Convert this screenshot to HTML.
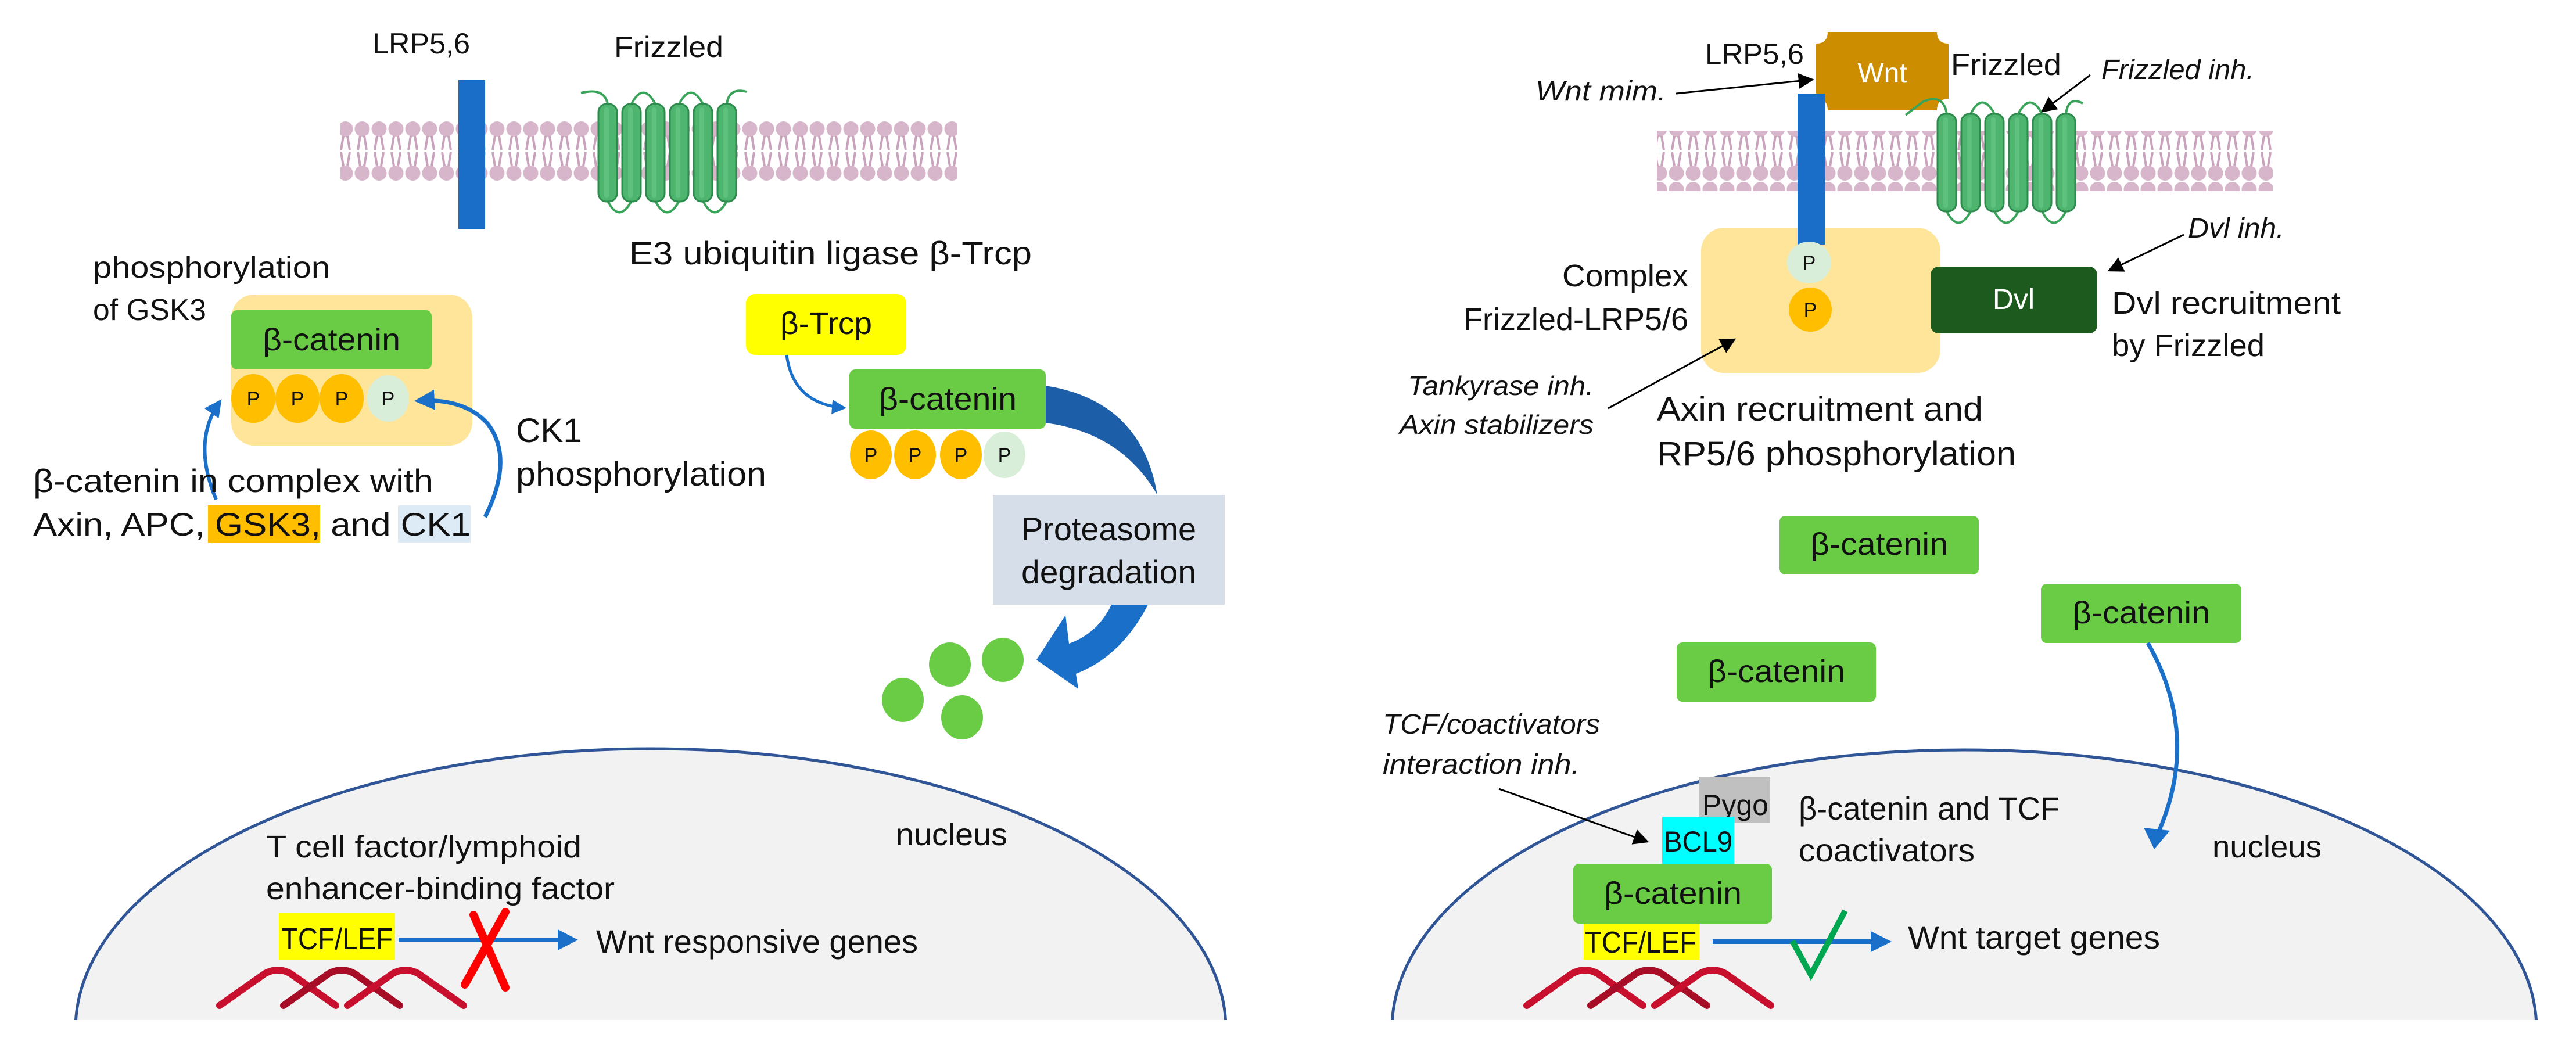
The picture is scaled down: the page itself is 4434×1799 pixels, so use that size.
<!DOCTYPE html>
<html><head><meta charset="utf-8"><style>
html,body{margin:0;padding:0;background:#fff;width:4434px;height:1799px;overflow:hidden}
svg{display:block}
text{font-family:"Liberation Sans",sans-serif;fill:#111}
.it{font-style:italic}
</style></head><body>
<svg width="4434" height="1799" viewBox="0 0 4434 1799" xmlns="http://www.w3.org/2000/svg">
<defs>
<pattern id="lip" x="0" y="0" width="29" height="104" patternUnits="userSpaceOnUse">
 <circle cx="14.5" cy="14" r="13" fill="#d7b5cb"/>
 <circle cx="14.5" cy="90" r="13" fill="#d7b5cb"/>
 <path d="M11 26 L7 50 M18 26 L22 50 M11 78 L7 54 M18 78 L22 54" stroke="#c9a3bb" stroke-width="4" fill="none"/>
</pattern>
<marker id="ab" viewBox="0 0 10 10" refX="8" refY="5" markerWidth="5" markerHeight="5" orient="auto"><path d="M0 0 L10 5 L0 10 Z" fill="#1a6fc9"/></marker>
<marker id="ak" viewBox="0 0 10 10" refX="9" refY="5" markerWidth="9" markerHeight="9" orient="auto"><path d="M0 0 L10 5 L0 10 Z" fill="#000"/></marker>
<g id="helix">
 <rect x="0" y="0" width="32" height="168" rx="14" fill="#4db56d" stroke="#2e8b4e" stroke-width="3"/>
 <rect x="10" y="6" width="8" height="156" rx="4" fill="#6cc98a" opacity="0.6"/>
</g>
<g id="dna" fill="none" stroke-width="12" stroke-linecap="round" stroke-linejoin="round">
 <path d="M0 61 L78 6 Q100 -6 122 6 L200 61" stroke="#c8102e"/>
 <path d="M110 61 L188 6 Q210 -6 232 6 L310 61" stroke="#a80d27"/>
 <path d="M220 61 L298 6 Q320 -6 342 6 L420 61" stroke="#c8102e"/>
</g>
</defs>

<!-- ================= LEFT PANEL ================= -->
<rect x="585" y="208" width="1063" height="104" fill="url(#lip)"/>
<rect x="789" y="138" width="46" height="256" fill="#1a6ec8"/>
<g fill="none" stroke="#3aa35a" stroke-width="4">
 <path d="M1046 179 Q1040 150 1000 160"/>
 <path d="M1087 179 Q1107 140 1128 179"/>
 <path d="M1169 179 Q1189 140 1210 179"/>
 <path d="M1251 179 Q1255 150 1285 158"/>
 <path d="M1046 346 Q1066 385 1087 346"/>
 <path d="M1128 346 Q1148 385 1169 346"/>
 <path d="M1210 346 Q1230 385 1251 346"/>
</g>
<use href="#helix" x="1030" y="179"/><use href="#helix" x="1071" y="179"/><use href="#helix" x="1112" y="179"/>
<use href="#helix" x="1153" y="179"/><use href="#helix" x="1194" y="179"/><use href="#helix" x="1235" y="179"/>
<text x="641" y="92" font-size="50" textLength="168" lengthAdjust="spacingAndGlyphs">LRP5,6</text>
<text x="1057" y="98" font-size="50" textLength="188" lengthAdjust="spacingAndGlyphs">Frizzled</text>
<text x="1083" y="455" font-size="56" textLength="693" lengthAdjust="spacingAndGlyphs">E3 ubiquitin ligase β-Trcp</text>
<text x="160" y="478" font-size="52" textLength="408" lengthAdjust="spacingAndGlyphs">phosphorylation</text>
<text x="160" y="551" font-size="52" textLength="195" lengthAdjust="spacingAndGlyphs">of GSK3</text>

<rect x="398" y="507" width="415" height="260" rx="40" fill="#fee59a"/>
<rect x="398" y="534" width="345" height="102" rx="10" fill="#6acc45"/>
<text x="452" y="603" font-size="54" textLength="237" lengthAdjust="spacingAndGlyphs">β-catenin</text>
<g font-size="34" text-anchor="middle">
<ellipse cx="436" cy="686" rx="38" ry="42" fill="#ffbf00"/><text x="436" y="698">P</text>
<ellipse cx="512" cy="686" rx="38" ry="42" fill="#ffbf00"/><text x="512" y="698">P</text>
<ellipse cx="588" cy="686" rx="38" ry="42" fill="#ffbf00"/><text x="588" y="698">P</text>
<ellipse cx="668" cy="686" rx="36" ry="40" fill="#d8eed9"/><text x="668" y="698">P</text>
</g>
<path d="M372 860 Q330 760 378 692" fill="none" stroke="#1a6fc9" stroke-width="6" marker-end="url(#ab)"/>
<path d="M835 890 Q885 790 840 730 Q800 685 720 690" fill="none" stroke="#1a6fc9" stroke-width="7" marker-end="url(#ab)"/>

<rect x="358" y="870" width="193" height="64" fill="#ffbf00"/>
<rect x="685" y="870" width="125" height="64" fill="#ddebf7"/>
<text x="57" y="847" font-size="56" textLength="689" lengthAdjust="spacingAndGlyphs">β-catenin in complex with</text>
<text x="57" y="922" font-size="56" textLength="753" lengthAdjust="spacingAndGlyphs">Axin, APC, GSK3, and CK1</text>
<text x="888" y="761" font-size="58" textLength="114" lengthAdjust="spacingAndGlyphs">CK1</text>
<text x="888" y="836" font-size="58" textLength="431" lengthAdjust="spacingAndGlyphs">phosphorylation</text>

<rect x="1284" y="506" width="276" height="105" rx="16" fill="#ffff00"/>
<text x="1343" y="575" font-size="54" textLength="158" lengthAdjust="spacingAndGlyphs">β-Trcp</text>
<path d="M1354 611 Q1365 695 1452 702" fill="none" stroke="#1a6fc9" stroke-width="5" marker-end="url(#ab)"/>
<rect x="1462" y="636" width="338" height="102" rx="10" fill="#6acc45"/>
<text x="1513" y="705" font-size="54" textLength="237" lengthAdjust="spacingAndGlyphs">β-catenin</text>
<g font-size="34" text-anchor="middle">
<ellipse cx="1499" cy="783" rx="36" ry="42" fill="#ffbf00"/><text x="1499" y="795">P</text>
<ellipse cx="1575" cy="783" rx="36" ry="42" fill="#ffbf00"/><text x="1575" y="795">P</text>
<ellipse cx="1654" cy="783" rx="36" ry="42" fill="#ffbf00"/><text x="1654" y="795">P</text>
<ellipse cx="1729" cy="783" rx="36" ry="40" fill="#d8eed9"/><text x="1729" y="795">P</text>
</g>
<path d="M1800 664 Q1965 690 1992 852 Q1930 745 1800 728 Z" fill="#1d5ea8"/>
<rect x="1709" y="852" width="399" height="189" fill="#d5dee9"/>
<text x="1758" y="930" font-size="56" textLength="301" lengthAdjust="spacingAndGlyphs">Proteasome</text>
<text x="1758" y="1004" font-size="56" textLength="301" lengthAdjust="spacingAndGlyphs">degradation</text>
<path d="M1976 1041 Q1930 1130 1852 1160 L1856 1186 L1784 1136 L1834 1059 L1840 1108 Q1890 1090 1913 1041 Z" fill="#1a6fc9"/>
<g fill="#6acc45">
<ellipse cx="1635" cy="1144" rx="36" ry="38"/><ellipse cx="1726" cy="1136" rx="36" ry="38"/>
<ellipse cx="1554" cy="1205" rx="36" ry="38"/><ellipse cx="1656" cy="1235" rx="36" ry="38"/>
</g>

<!-- nucleus left -->
<ellipse cx="1120" cy="1771" rx="990" ry="482" fill="#f2f2f2" stroke="#2f5597" stroke-width="5"/>
<text x="1542" y="1455" font-size="54" textLength="192" lengthAdjust="spacingAndGlyphs">nucleus</text>
<text x="458" y="1476" font-size="54" textLength="543" lengthAdjust="spacingAndGlyphs">T cell factor/lymphoid</text>
<text x="458" y="1548" font-size="54" textLength="600" lengthAdjust="spacingAndGlyphs">enhancer-binding factor</text>
<rect x="480" y="1572" width="200" height="80" fill="#ffff00"/>
<text x="484" y="1634" font-size="52" textLength="192" lengthAdjust="spacingAndGlyphs">TCF/LEF</text>
<line x1="686" y1="1618" x2="965" y2="1618" stroke="#1a6fc9" stroke-width="8"/>
<path d="M960 1600 L995 1618 L960 1636 Z" fill="#1a6fc9"/>
<path d="M815 1575 L870 1700 M870 1570 L800 1695" stroke="#ff0000" stroke-width="14" stroke-linecap="round"/>
<text x="1026" y="1640" font-size="56" textLength="554" lengthAdjust="spacingAndGlyphs">Wnt responsive genes</text>
<use href="#dna" x="378" y="1670"/>

<!-- ================= RIGHT PANEL ================= -->
<rect x="2852" y="225" width="1060" height="104" fill="url(#lip)"/>
<path d="M3146 55 L3334 55 Q3334 75 3354 75 L3354 170 Q3334 170 3334 190 L3146 190 Q3146 170 3126 170 L3126 75 Q3146 75 3146 55 Z" fill="#cc8e00"/>
<text x="3240" y="142" font-size="48" text-anchor="middle" style="fill:#fff">Wnt</text>
<rect x="3094" y="161" width="47" height="260" fill="#1a6ec8"/>
<g fill="none" stroke="#3aa35a" stroke-width="4">
 <path d="M3351 196 Q3345 160 3310 175 L3280 198"/>
 <path d="M3392 196 Q3412 157 3433 196"/>
 <path d="M3474 196 Q3494 157 3515 196"/>
 <path d="M3556 196 Q3560 165 3585 178"/>
 <path d="M3351 364 Q3371 403 3392 364"/>
 <path d="M3433 364 Q3453 403 3474 364"/>
 <path d="M3515 364 Q3535 403 3556 364"/>
</g>
<use href="#helix" x="3335" y="196"/><use href="#helix" x="3376" y="196"/><use href="#helix" x="3417" y="196"/>
<use href="#helix" x="3458" y="196"/><use href="#helix" x="3499" y="196"/><use href="#helix" x="3540" y="196"/>
<text x="2935" y="110" font-size="50" textLength="170" lengthAdjust="spacingAndGlyphs">LRP5,6</text>
<text x="3358" y="129" font-size="52" textLength="190" lengthAdjust="spacingAndGlyphs">Frizzled</text>
<text x="3617" y="136" font-size="48" class="it" textLength="263" lengthAdjust="spacingAndGlyphs">Frizzled inh.</text>
<line x1="3598" y1="129" x2="3515" y2="192" stroke="#000" stroke-width="3" marker-end="url(#ak)"/>
<text x="2643" y="173" font-size="48" class="it" textLength="225" lengthAdjust="spacingAndGlyphs">Wnt mim.</text>
<line x1="2885" y1="161" x2="3120" y2="137" stroke="#000" stroke-width="3" marker-end="url(#ak)"/>

<rect x="2928" y="392" width="412" height="250" rx="40" fill="#fee59a"/>
<rect x="3094" y="380" width="47" height="41" fill="#1a6ec8"/>
<g font-size="34" text-anchor="middle">
<ellipse cx="3114" cy="452" rx="38" ry="36" fill="#d8eed9"/><text x="3114" y="464">P</text>
<ellipse cx="3116" cy="533" rx="37" ry="38" fill="#ffbf00"/><text x="3116" y="545">P</text>
</g>
<rect x="3323" y="459" width="287" height="115" rx="14" fill="#1d5a1d"/>
<text x="3466" y="532" font-size="50" text-anchor="middle" style="fill:#fff">Dvl</text>
<text x="3766" y="409" font-size="48" class="it" textLength="166" lengthAdjust="spacingAndGlyphs">Dvl inh.</text>
<line x1="3759" y1="404" x2="3630" y2="466" stroke="#000" stroke-width="3" marker-end="url(#ak)"/>
<text x="3635" y="540" font-size="54" textLength="394" lengthAdjust="spacingAndGlyphs">Dvl recruitment</text>
<text x="3635" y="613" font-size="54" textLength="263" lengthAdjust="spacingAndGlyphs">by Frizzled</text>
<text x="2689" y="493" font-size="54" textLength="217" lengthAdjust="spacingAndGlyphs">Complex</text>
<text x="2519" y="568" font-size="54" textLength="387" lengthAdjust="spacingAndGlyphs">Frizzled-LRP5/6</text>
<text x="2423" y="680" font-size="46" class="it" textLength="320" lengthAdjust="spacingAndGlyphs">Tankyrase inh.</text>
<text x="2409" y="747" font-size="46" class="it" textLength="334" lengthAdjust="spacingAndGlyphs">Axin stabilizers</text>
<line x1="2768" y1="703" x2="2986" y2="584" stroke="#000" stroke-width="3" marker-end="url(#ak)"/>
<text x="2852" y="724" font-size="58" textLength="561" lengthAdjust="spacingAndGlyphs">Axin recruitment and</text>
<text x="2852" y="801" font-size="58" textLength="618" lengthAdjust="spacingAndGlyphs">RP5/6 phosphorylation</text>

<rect x="3063" y="888" width="343" height="101" rx="10" fill="#6acc45"/>
<text x="3116" y="955" font-size="54" textLength="237" lengthAdjust="spacingAndGlyphs">β-catenin</text>
<rect x="3513" y="1005" width="345" height="102" rx="10" fill="#6acc45"/>
<text x="3567" y="1073" font-size="54" textLength="237" lengthAdjust="spacingAndGlyphs">β-catenin</text>
<rect x="2886" y="1106" width="343" height="102" rx="10" fill="#6acc45"/>
<text x="2939" y="1174" font-size="54" textLength="237" lengthAdjust="spacingAndGlyphs">β-catenin</text>

<!-- nucleus right -->
<ellipse cx="3381" cy="1771" rx="985" ry="480" fill="#f2f2f2" stroke="#2f5597" stroke-width="5"/>
<path d="M3697 1107 Q3790 1270 3712 1440" fill="none" stroke="#1a6fc9" stroke-width="7"/>
<path d="M3690 1425 L3708 1462 L3735 1430 Z" fill="#1a6fc9"/>
<text x="2380" y="1263" font-size="48" class="it" textLength="374" lengthAdjust="spacingAndGlyphs">TCF/coactivators</text>
<text x="2380" y="1332" font-size="48" class="it" textLength="339" lengthAdjust="spacingAndGlyphs">interaction inh.</text>
<line x1="2580" y1="1358" x2="2836" y2="1449" stroke="#000" stroke-width="3" marker-end="url(#ak)"/>
<rect x="2925" y="1337" width="122" height="79" fill="#c0c0c0"/>
<text x="2930" y="1403" font-size="50" textLength="114" lengthAdjust="spacingAndGlyphs">Pygo</text>
<rect x="2861" y="1406" width="124" height="81" fill="#00ffff"/>
<text x="2864" y="1466" font-size="50" textLength="118" lengthAdjust="spacingAndGlyphs">BCL9</text>
<rect x="2708" y="1487" width="342" height="103" rx="10" fill="#6acc45"/>
<text x="2761" y="1556" font-size="54" textLength="237" lengthAdjust="spacingAndGlyphs">β-catenin</text>
<rect x="2726" y="1590" width="199" height="62" fill="#ffff00"/>
<text x="2728" y="1640" font-size="52" textLength="192" lengthAdjust="spacingAndGlyphs">TCF/LEF</text>
<line x1="2948" y1="1621" x2="3225" y2="1621" stroke="#1a6fc9" stroke-width="8"/>
<path d="M3220 1603 L3256 1621 L3220 1639 Z" fill="#1a6fc9"/>
<path d="M3085 1620 L3117 1678 L3176 1568" fill="none" stroke="#00a650" stroke-width="10"/>
<text x="3284" y="1633" font-size="56" textLength="434" lengthAdjust="spacingAndGlyphs">Wnt target genes</text>
<text x="3096" y="1411" font-size="56" textLength="449" lengthAdjust="spacingAndGlyphs">β-catenin and TCF</text>
<text x="3096" y="1483" font-size="56" textLength="303" lengthAdjust="spacingAndGlyphs">coactivators</text>
<text x="3808" y="1476" font-size="54" textLength="188" lengthAdjust="spacingAndGlyphs">nucleus</text>
<use href="#dna" x="2628" y="1670"/>

<rect x="0" y="1756" width="4434" height="43" fill="#fff"/>
</svg>
</body></html>
